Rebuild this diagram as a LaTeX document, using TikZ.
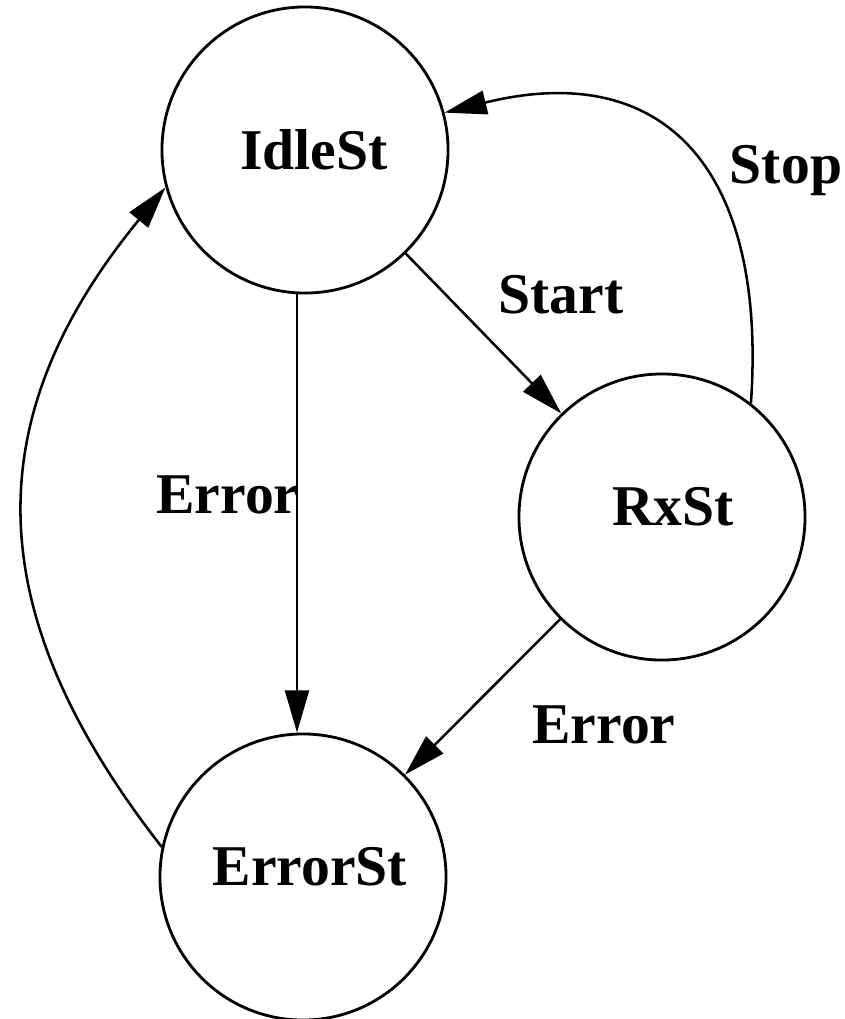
\documentclass[tikz,border=0pt]{standalone}
\usepackage{fontspec}
\setmainfont{Liberation Serif}
\usetikzlibrary{automata}
\usetikzlibrary{arrows.meta}
\tikzset{every state/.style={draw, line width=2pt, minimum size=7.15cm, inner sep=0pt,
      font=\bfseries\fontsize{41}{49}\selectfont},
      raised/.style={text height=0.4cm, text depth=0pt},
      lbl/.style={font=\bfseries\fontsize{41}{49}\selectfont, inner sep=0pt},
      trans/.style={draw, ->, >={Triangle[length=30pt,width=17pt]},
line width=1.8pt}}

\begin{document}
\begin{tikzpicture}[x=0.025cm,y=-0.025cm]
          \useasboundingbox (0,0) rectangle (844,1019);
          \node[state] (idle) at (305,150) {\hspace*{0.45cm}IdleSt};
          \node[state, raised] (rx) at (662,517) {\hspace*{0.55cm}RxSt};
          \node[state, raised] (err) at (303,877) {\hspace*{0.35cm}ErrorSt};
          \draw[trans] (idle) -- (rx);
          \draw[trans] (rx.52) .. controls +(16,-230) and +(223,-55) .. (idle.15);
          \draw[trans] ([xshift=-0.2cm]idle.south) -- ([xshift=-0.2cm]idle.south |- err.north);
          \draw[trans] (rx) -- (err);
          \draw[trans] (err.168) .. controls +(-177,-227) and +(-195,238) .. (idle.195);
          \node[lbl] (lstart) at (561,295) {Start};
          \node[lbl] (lstop) at (786,171) {Stop};
          \node[lbl] (lerr1) at (228,495) {Error};
          \node[lbl] (lerr2) at (604,725) {Error};
       \end{tikzpicture}
\end{document}
